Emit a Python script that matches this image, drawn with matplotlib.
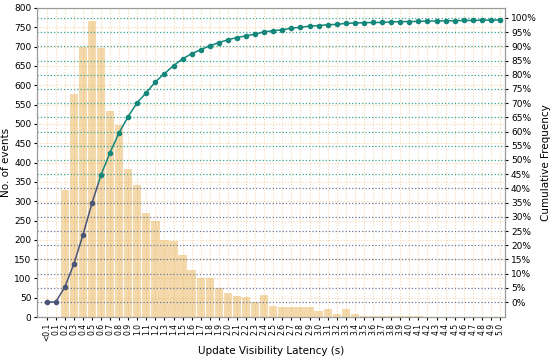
# histogram of update visibility latency with cumulative frequency line

import numpy as np
import matplotlib
matplotlib.use("Agg")
import matplotlib.pyplot as plt
from matplotlib.patches import Rectangle
from matplotlib.ticker import PercentFormatter

# latency buckets (s)
buckets = ["<0.1"] + ["%.1f" % (i / 10) for i in range(1, 51)]

# number of events per bucket
counts = [0, 0, 330, 578, 700, 765, 697, 533, 497, 383,
          343, 270, 250, 200, 197, 160, 122, 100, 100, 75,
          62, 55, 52, 38, 57, 30, 27, 27, 25, 25,
          16, 20, 8, 22, 8, 2, 3, 3, 2, 2,
          3, 2, 1, 0, 0, 1, 0, 0, 0, 0, 0]

# cumulative frequency (%) per bucket
cum_pct = [0, 0, 5.2, 13.3, 23.5, 34.7, 44.7, 52.6, 59.6, 65.3,
           70.2, 73.7, 77.5, 80.4, 83.2, 85.6, 87.4, 88.8, 90.2, 91.3,
           92.3, 93.1, 93.7, 94.3, 95.1, 95.5, 95.8, 96.4, 96.7, 97.1,
           97.3, 97.6, 97.7, 98.1, 98.2, 98.3, 98.4, 98.4, 98.6, 98.7,
           98.7, 98.8, 98.9, 98.9, 99.0, 99.0, 99.1, 99.1, 99.2, 99.2, 99.3]


def main():
    fig = plt.figure(figsize=(5.5, 3.62), dpi=100)
    ax = fig.add_axes([0.067, 0.124, 0.852, 0.854])
    x = np.arange(len(buckets))

    # bars for event counts
    ax.set_axisbelow(True)
    ax.grid(True, color="#f7d7ae", linestyle=":", linewidth=0.8)
    ax.bar(x, counts, width=0.92, color="#e6ab45", alpha=0.45, zorder=2)
    ax.set_ylim(0, 800)
    ax.set_yticks(np.arange(0, 801, 50))
    ax.set_xlim(-1.07, 50.6)
    ax.set_xticks(x)
    ax.set_xticklabels(buckets, rotation=90, fontsize=5.5)
    ax.tick_params(axis="y", labelsize=6.5, length=2.5, pad=1.5)
    ax.tick_params(axis="x", length=2.5, pad=1.5)
    ax.set_ylabel("No. of events", fontsize=7.5, labelpad=2)
    ax.set_xlabel("Update Visibility Latency (s)", fontsize=7.5, labelpad=4)

    # cumulative frequency on the right axis
    ax2 = ax.twinx()
    ax2.set_ylim(-5.3, 103.5)
    ticks = np.arange(0, 101, 5)
    ax2.set_yticks(ticks)
    ax2.yaxis.set_major_formatter(PercentFormatter(100, decimals=0))
    ax2.tick_params(axis="y", labelsize=6.5, length=2.5, pad=1.5)
    ax2.set_ylabel("Cumulative Frequency", fontsize=7.5, labelpad=3)

    split = 42
    for t in ticks:
        col = "#6b7896" if t < split else "#3aa596"
        ax2.axhline(t, color=col, linestyle=":", linewidth=0.9, zorder=1)

    # line is slate below the split and teal above it
    low = Rectangle((-5, -100), 100, 100 + split, transform=ax2.transData)
    high = Rectangle((-5, split), 100, 200, transform=ax2.transData)
    l1, = ax2.plot(x, cum_pct, color="#4a5578", marker="o", markersize=3,
                   linewidth=1.1, zorder=4)
    l1.set_clip_path(low)
    l2, = ax2.plot(x, cum_pct, color="#14877a", marker="o", markersize=3,
                   linewidth=1.1, zorder=4)
    l2.set_clip_path(high)

    for a in (ax, ax2):
        for s in a.spines.values():
            s.set_color("#999999")
            s.set_linewidth(0.8)

    fig.savefig("out.png", dpi=100)


main()
